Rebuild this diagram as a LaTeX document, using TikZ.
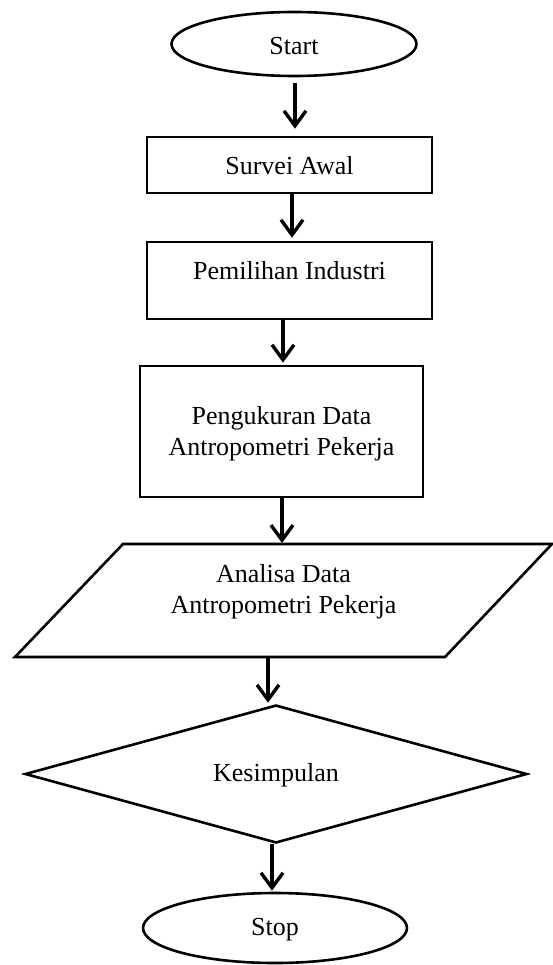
\documentclass[tikz,border=0pt]{standalone}
\usepackage{fontspec}
\setmainfont{Liberation Serif}
\usetikzlibrary{shapes.geometric,arrows.meta,calc}
\tikzset{
  outl/.style={draw=black, line width=2.6pt, inner sep=0pt, fill=white},
  term/.style={outl, ellipse},
  procbox/.style={outl, rectangle},
  decis/.style={outl, diamond},
  txt/.style={font=\fontsize{26}{31}\selectfont, align=center, inner sep=0pt},
  arr/.style={line width=3.4pt, -{Straight Barb[length=15pt,width=22pt]}}
}
\begin{document}
\begin{tikzpicture}[x=1pt,y=-1pt]
\useasboundingbox (0,0) rectangle (553,965);
% shapes
\node[term, minimum width=245pt, minimum height=64pt] (start) at (294,44) {};
\node[txt] (startt) at (294,46) {Start};
\node[procbox, minimum width=285pt, minimum height=56pt] (survei) at (289.5,165) {};
\node[txt] (surveit) at (289.5,166) {Survei Awal};
\node[procbox, minimum width=285pt, minimum height=77pt] (pemilihan) at (289.5,280.5) {};
\node[txt] (pemilihant) at (289.5,271) {Pemilihan Industri};
\node[procbox, minimum width=283pt, minimum height=131pt] (pengukuran) at (281.5,431.5) {};
\node[txt] (pengukurant) at (281.5,434) {Pengukuran Data\\Antropometri Pekerja};
% parallelogram
\coordinate (pa1) at (123,544);
\coordinate (pa2) at (552,544);
\coordinate (pa3) at (445,657);
\coordinate (pa4) at (15,657);
\draw[outl, line join=miter] (pa1) -- (pa2) -- (pa3) -- (pa4) -- cycle;
\coordinate (anatop) at (282,544);
\coordinate (anabot) at (268,657);
\node[txt] (analisa) at (283.5,592) {Analisa Data\\Antropometri Pekerja};
\node[decis, minimum width=502pt, minimum height=138pt] (kesimpulan) at (276,774) {};
\node[txt] (kesimpulant) at (276,775) {Kesimpulan};
\node[term, minimum width=264pt, minimum height=70pt] (stop) at (275,928) {};
\node[txt] (stopt) at (275,930) {Stop};
% connectors
\draw[arr] ($(start.south)+(1,6)$) -- ($(survei.north)+(5.5,-7)$);
\draw[arr] ($(survei.south)+(2.5,0)$) -- ($(pemilihan.north)+(2.5,-3)$);
\draw[arr] ($(pemilihan.south)+(-6.5,0)$) -- ($(pengukuran.north)+(1.5,-2)$);
\draw[arr] ($(pengukuran.south)+(0.5,0)$) -- ($(anatop)+(0,-1)$);
\draw[arr] (anabot) -- ($(kesimpulan.north)+(-8,-1)$);
\draw[arr] ($(kesimpulan.south)+(-4,0)$) -- ($(stop.north)+(-3,-1)$);
\end{tikzpicture}
\end{document}
